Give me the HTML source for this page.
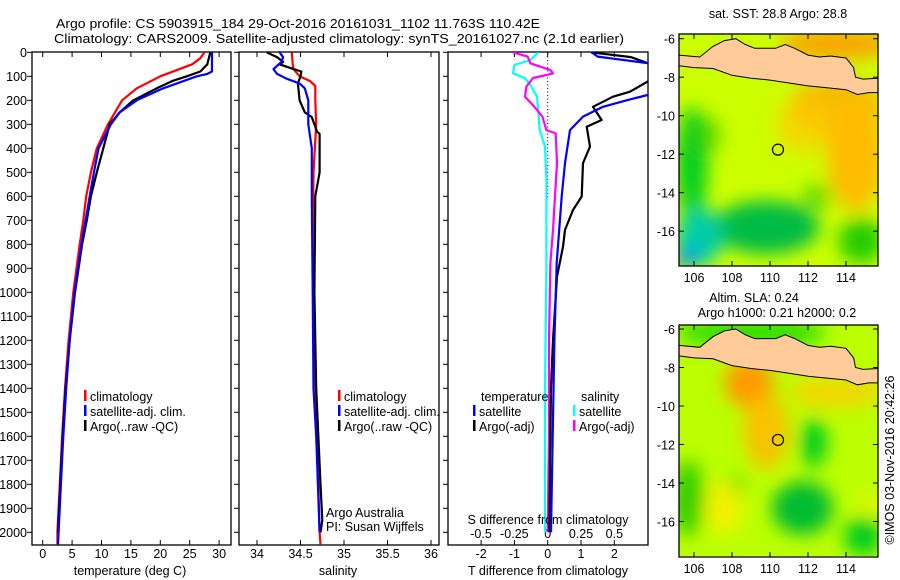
<!DOCTYPE html>
<html><head><meta charset="utf-8"><style>
html,body{margin:0;padding:0;background:#fff;}
svg{display:block;font-family:"Liberation Sans",sans-serif;}
text{fill:#000;}
</style></head><body>
<svg id="chart" width="900" height="580" viewBox="0 0 900 580" xmlns="http://www.w3.org/2000/svg">
<defs>
<clipPath id="cp1"><rect x="32" y="52" width="199" height="493"/></clipPath>
<clipPath id="cp2"><rect x="239" y="52" width="200" height="493"/></clipPath>
<clipPath id="cp3"><rect x="448" y="52" width="200" height="493"/></clipPath>
<clipPath id="cm1"><rect x="679" y="34" width="199" height="232"/></clipPath>
<clipPath id="cm2"><rect x="679" y="325" width="199" height="231"/></clipPath>
<filter id="bl" x="-50%" y="-50%" width="200%" height="200%"><feGaussianBlur stdDeviation="9"/></filter>
</defs>
<text x="56" y="28" font-size="13" textLength="484" lengthAdjust="spacingAndGlyphs">Argo profile: CS 5903915_184 29-Oct-2016 20161031_1102 11.763S 110.42E</text>
<text x="54" y="43" font-size="13" textLength="570" lengthAdjust="spacingAndGlyphs">Climatology: CARS2009. Satellite-adjusted climatology: synTS_20161027.nc (2.1d earlier)</text>
<g id="g1"></g>
<g id="g2"></g>
<g id="g3"></g>
<g id="m1"></g>
<g id="m2"></g>
<text transform="translate(894,460) rotate(-90)" text-anchor="middle" font-size="12.5">©IMOS 03-Nov-2016 20:42:26</text>
</svg>
<script>
// ---- data ----
const depthTicks=[0,100,200,300,400,500,600,700,800,900,1000,1100,1200,1300,1400,1500,1600,1700,1800,1900,2000];
const tempTicks=[0,5,10,15,20,25,30];
const salTicks=[34,34.5,35,35.5,36];
const tdiffTicks=[-2,-1,0,1,2];
const tdiffLabels=["-2","-1","0","1","2"];
const sdiffTicks=[-0.5,-0.25,0,0.25,0.5];
const sdiffLabels=["-0.5","-0.25","0","0.25","0.5"];

const climTdep=[0,25,50,100,150,200,300,400,500,600,700,800,1000,1200,1400,1600,1800,2000,2050];
const climT=[27.5,26.8,25.4,20,16,13.5,11.1,9.2,8.2,7.4,6.9,6.3,5.2,4.4,3.8,3.3,2.9,2.5,2.5];
const satTdep=[0,80,90,100,150,200,250,300,400,500,600,700,800,1000,1200,1400,1600,1800,2000,2050];
const satT=[28.8,28.8,28,26.2,20.5,16,13.1,11.6,9.5,8.7,8.0,7.3,6.6,5.4,4.6,4.0,3.5,3.1,2.7,2.6];
const argoTdep=[0,50,80,100,120,150,200,250,300,400,500,600,700,800,1000,1200,1400,1600,1800,2000];
const argoT=[28.5,28,26.8,24.5,22,19.4,15.4,13.1,11.4,10.3,9.2,8.2,7.5,6.7,5.5,4.6,3.9,3.4,3.0,2.6];

const climSdep=[0,50,70,100,120,140,200,300,500,800,1200,1600,2000,2050];
const climS=[34.40,34.41,34.42,34.49,34.61,34.67,34.67,34.68,34.65,34.64,34.66,34.69,34.72,34.73];
const satSdep=[0,20,40,70,90,110,130,150,200,300,400,500,600,1000,1400,1600,2000];
const satS=[34.26,34.30,34.28,34.19,34.23,34.34,34.49,34.55,34.59,34.59,34.63,34.63,34.63,34.64,34.65,34.68,34.72];
const argoSdep=[0,20,40,50,70,80,100,130,200,250,270,330,340,500,600,1000,1400,1800,1950,2000];
const argoS=[34.11,34.23,34.30,34.26,34.42,34.51,34.50,34.47,34.49,34.55,34.63,34.69,34.72,34.72,34.67,34.66,34.68,34.73,34.75,34.73];

const dTsatDep=[0,18,45,60,170,178,200,227,268,324,462,601,878,1200,1600,2000];
const dTsat=[1.32,1.5,3.0,3.5,3.5,3.0,2.37,1.66,1.06,0.67,0.52,0.42,0.27,0.2,0.15,0.1];
const dTargoDep=[0,20,45,60,115,122,164,185,227,282,310,393,462,601,657,740,810,935,1200,1400,1700,2000];
const dTargo=[1.3,2.5,3.0,3.5,3.5,3.0,2.47,1.96,1.36,1.62,1.17,1.27,1.06,1.02,0.76,0.52,0.46,0.28,0.16,0.1,0.07,0.05];
const dSargoDep=[0,18,46,74,88,107,143,185,227,268,324,338,462,740,878,1200,1600,2000];
const dSargo=[-0.26,-0.15,-0.13,0.02,0.04,-0.11,-0.16,-0.17,-0.10,-0.04,-0.01,0.06,0.07,0.04,0.02,0.01,0.01,0.0];
const dSsatDep=[0,32,53,88,108,136,185,254,324,393,532,900,1400,2000];
const dSsat=[-0.07,-0.13,-0.25,-0.26,-0.17,-0.13,-0.08,-0.07,-0.06,-0.02,-0.01,-0.01,-0.02,-0.02];

// ---- helpers ----
const NS="http://www.w3.org/2000/svg";
function mk(tag,parent,attrs){const e=document.createElementNS(NS,tag);for(const k in attrs)e.setAttribute(k,attrs[k]);parent.appendChild(e);return e;}
const yD=d=>52.3+d*0.24;
const xT=t=>42.7+t*5.88;
const xS=s=>257+(s-34)*87;
const xdT=t=>547.7+t*33.3;
const xdS=s=>547.7+s*133.3;

function frame(g,x0,x1){
  const r=mk('rect',g,{x:x0,y:52,width:x1-x0,height:493,fill:'none',stroke:'#000','stroke-width':1.3});
  
  
  depthTicks.forEach(d=>{
    const y=yD(d);
    mk('line',g,{x1:x0-5,x2:x0,y1:y,y2:y,stroke:'#000'});
  });
}
function xticks(g,vals,labels,fx,y,name){
  vals.forEach((v,i)=>{
    const x=fx(v);
    mk('line',g,{x1:x,x2:x,y1:545,y2:540,stroke:'#000'});
    mk('line',g,{x1:x,x2:x,y1:52,y2:57,stroke:'#000'});
    const t=mk('text',g,{x:x,y:y,'text-anchor':'middle','font-size':12.5});
    t.textContent=labels[i];
    
    
  });
}
function series(g,xs,ds,fx,color,name,clip){
  const pts=xs.map((v,i)=>fx(v).toFixed(1)+','+yD(ds[i]).toFixed(1)).join(' ');
  const p=mk('polyline',g,{points:pts,fill:'none',stroke:color,'stroke-width':2.2,'clip-path':'url(#'+clip+')','stroke-linejoin':'round'});
  
  
}
function legend(g,x,y,color,label,name){
  mk('rect',g,{x:x,y:y-7,width:2.5,height:11,fill:color});
  const t=mk('text',g,{x:x+6,y:y+4,'font-size':12.5});
  t.textContent=label;
  
  
}
function txt(g,x,y,s,name,anchor){
  const t=mk('text',g,{x:x,y:y,'font-size':12.5,'text-anchor':anchor||'start'});
  t.textContent=s;
  
  
  return t;
}

// ---- panel 1 ----
const g1=document.getElementById('g1');
frame(g1,32,231);
depthTicks.forEach(d=>{txt(g1,27,yD(d)+4.5,String(d),'depth-tick-label','end');});
xticks(g1,tempTicks,tempTicks.map(String),xT,558,'temperature-tick-label');
series(g1,climT,climTdep,xT,'#ff0000','temperature-climatology-line','cp1');
series(g1,argoT,argoTdep,xT,'#000000','temperature-argo-line','cp1');
series(g1,satT,satTdep,xT,'#0000ff','temperature-satellite-line','cp1');
legend(g1,84,397,'#ff0000','climatology','legend-climatology');
legend(g1,84,412,'#0000ff','satellite-adj. clim.','legend-satellite');
legend(g1,84,427,'#000000','Argo(..raw -QC)','legend-argo');
txt(g1,130,575,'temperature (deg C)','x-axis-title-temperature','middle');

// ---- panel 2 ----
const g2=document.getElementById('g2');
frame(g2,239,439);
xticks(g2,salTicks,salTicks.map(String),xS,558,'salinity-tick-label');
series(g2,climS,climSdep,xS,'#ff0000','salinity-climatology-line','cp2');
series(g2,argoS,argoSdep,xS,'#000000','salinity-argo-line','cp2');
series(g2,satS,satSdep,xS,'#0000ff','salinity-satellite-line','cp2');
legend(g2,338,397,'#ff0000','climatology','legend-climatology');
legend(g2,338,412,'#0000ff','satellite-adj. clim.','legend-satellite');
legend(g2,338,427,'#000000','Argo(..raw -QC)','legend-argo');
txt(g2,326,517,'Argo Australia','credit-argo-australia');
txt(g2,326,531,'PI: Susan Wijffels','credit-pi');
txt(g2,338,575,'salinity','x-axis-title-salinity','middle');

// ---- panel 3 ----
const g3=document.getElementById('g3');
frame(g3,448,648);
mk('line',g3,{x1:547.7,x2:547.7,y1:53,y2:200,stroke:'#000','stroke-dasharray':'1,2.5'});
xticks(g3,tdiffTicks,tdiffLabels,xdT,558,'tdiff-tick-label');
sdiffTicks.forEach((v,i)=>{
  txt(g3,xdS(v),538,sdiffLabels[i],'sdiff-tick-label','middle');
});
series(g3,dSsat,dSsatDep,xdS,'#00ffff','sdiff-satellite-line','cp3');
series(g3,dSargo,dSargoDep,xdS,'#ff00ff','sdiff-argo-line','cp3');
series(g3,dTargo,dTargoDep,xdT,'#000000','tdiff-argo-line','cp3');
series(g3,dTsat,dTsatDep,xdT,'#0000ff','tdiff-satellite-line','cp3');
txt(g3,481,401,'temperature','legend-temperature-heading');
txt(g3,581,401,'salinity','legend-salinity-heading');
legend(g3,473,412,'#0000ff','satellite','legend-t-satellite');
legend(g3,473,427,'#000000','Argo(-adj)','legend-t-argo');
legend(g3,573,412,'#00ffff','satellite','legend-s-satellite');
legend(g3,573,427,'#ff00ff','Argo(-adj)','legend-s-argo');
txt(g3,548,524,'S difference from climatology','x-axis-title-sdiff','middle');
txt(g3,548,575,'T difference from climatology','x-axis-title-tdiff','middle');

// ---- maps ----
const javaN=[[105.2,-6.85],[106.3,-6.95],[107,-6.4],[107.6,-6.1],[108.2,-6.0],[108.7,-6.3],[109.2,-6.5],[110.3,-6.5],[110.8,-6.3],[111.3,-6.5],[112,-6.85],[112.6,-6.95],[113.2,-6.9],[114,-7.0],[114.4,-7.5],[114.5,-8.0],[114.9,-8.1],[115.7,-8.05]];
const javaS=[[115.7,-8.8],[115.2,-8.8],[114.6,-8.9],[114,-8.65],[113,-8.55],[112,-8.45],[111,-8.3],[110,-8.15],[109,-8.05],[108,-7.9],[107,-7.55],[106,-7.5],[105.2,-7.4]];
function drawMap(gid,y0,top,clip,blobs,base,name){
  const g=document.getElementById(gid);
  const X=lon=>694+(lon-106)*19;
  const Y=lat=>y0+(-lat-6)*19.25;
  const inner=mk('g',g,{'clip-path':'url(#'+clip+')'});
  mk('rect',inner,{x:679,y:top,width:199,height:232,fill:base});
  const bg=mk('g',inner,{filter:'url(#bl)'});
  blobs.forEach(b=>mk('ellipse',bg,{cx:X(b[0]),cy:Y(b[1]),rx:b[2]*19,ry:b[3]*19,fill:b[4],opacity:b[5]||1}));
  const pts=javaN.concat(javaS).map(p=>X(p[0]).toFixed(1)+','+Y(p[1]).toFixed(1)).join(' ');
  const land=mk('polygon',inner,{points:pts,fill:'#ffcc99',stroke:'#000','stroke-width':1});
  
  
  const c=mk('circle',g,{cx:X(110.42),cy:Y(-11.763),r:5.5,fill:'none',stroke:'#000','stroke-width':1.2});
  
  
  const fr=mk('rect',g,{x:679,y:top,width:199,height:232,fill:'none',stroke:'#000','stroke-width':1.3});
  
  
  [-6,-8,-10,-12,-14,-16].forEach(l=>{
    mk('line',g,{x1:679,x2:684,y1:Y(l),y2:Y(l),stroke:'#000'});
    mk('line',g,{x1:873,x2:878,y1:Y(l),y2:Y(l),stroke:'#000'});
    txt(g,675,Y(l)+5,String(l),'latitude-label','end');
  });
  [106,108,110,112,114].forEach(l=>{
    mk('line',g,{x1:X(l),x2:X(l),y1:top,y2:top+5,stroke:'#000'});
    mk('line',g,{x1:X(l),x2:X(l),y1:top+232,y2:top+227,stroke:'#000'});
    txt(g,X(l),top+248,String(l),'longitude-label','middle');
  });
}
drawMap('m1',38.7,34,'cm1',[
  [113.5,-6.3,3,0.8,'#ff9900',0.9],[113.5,-9.5,2.5,1.5,'#ffaa00',0.8],[114.5,-12,1.5,3,'#ffbb00'],[111.8,-10.5,1.5,1.5,'#ffcc00',0.7],
  [105.9,-12.5,0.8,3,'#00cc22'],[106.6,-11,0.8,1,'#33cc00',0.7],[109.8,-15.8,2.8,1.4,'#00bb44'],[106.3,-16.3,1.2,1.5,'#00ccaa'],
  [105.6,-17.4,0.6,0.5,'#0088ff'],[114.8,-16.5,1.2,1.2,'#22cc00'],[112.5,-14.2,0.8,0.7,'#33cc00',0.7]
],'#ccff00','sst-map');
drawMap('m2',329,325,'cm2',[
  [108.9,-8.8,1.3,1.3,'#ff9900'],[109.8,-11.3,1.2,2,'#ffbb00',0.9],[113.5,-9.3,2.5,0.8,'#ffcc00',0.8],
  [112.3,-11.9,0.7,1.3,'#00cc22'],[111.7,-15.3,1.6,1.4,'#00bb33'],[105.7,-14.8,0.8,2,'#33cc00'],
  [107.6,-15.3,1,1.4,'#ffee00',0.8],[109,-6.2,4,0.8,'#33dd00'],[114.9,-16.8,1,1,'#00cc22'],[108.3,-14,0.4,0.5,'#33cc00',0.7],[115.3,-15,0.5,0.5,'#ffee00',0.7]
],'#bbff00','sla-map');
const m1=document.getElementById('m1'),m2=document.getElementById('m2');
txt(m1,778,18,'sat. SST: 28.8 Argo: 28.8','sst-map-title','middle');
txt(m2,754,302,'Altim. SLA: 0.24','sla-map-title','middle');
txt(m2,777,317,'Argo h1000: 0.21 h2000: 0.2','sla-map-subtitle','middle');
</script>
</body></html>
